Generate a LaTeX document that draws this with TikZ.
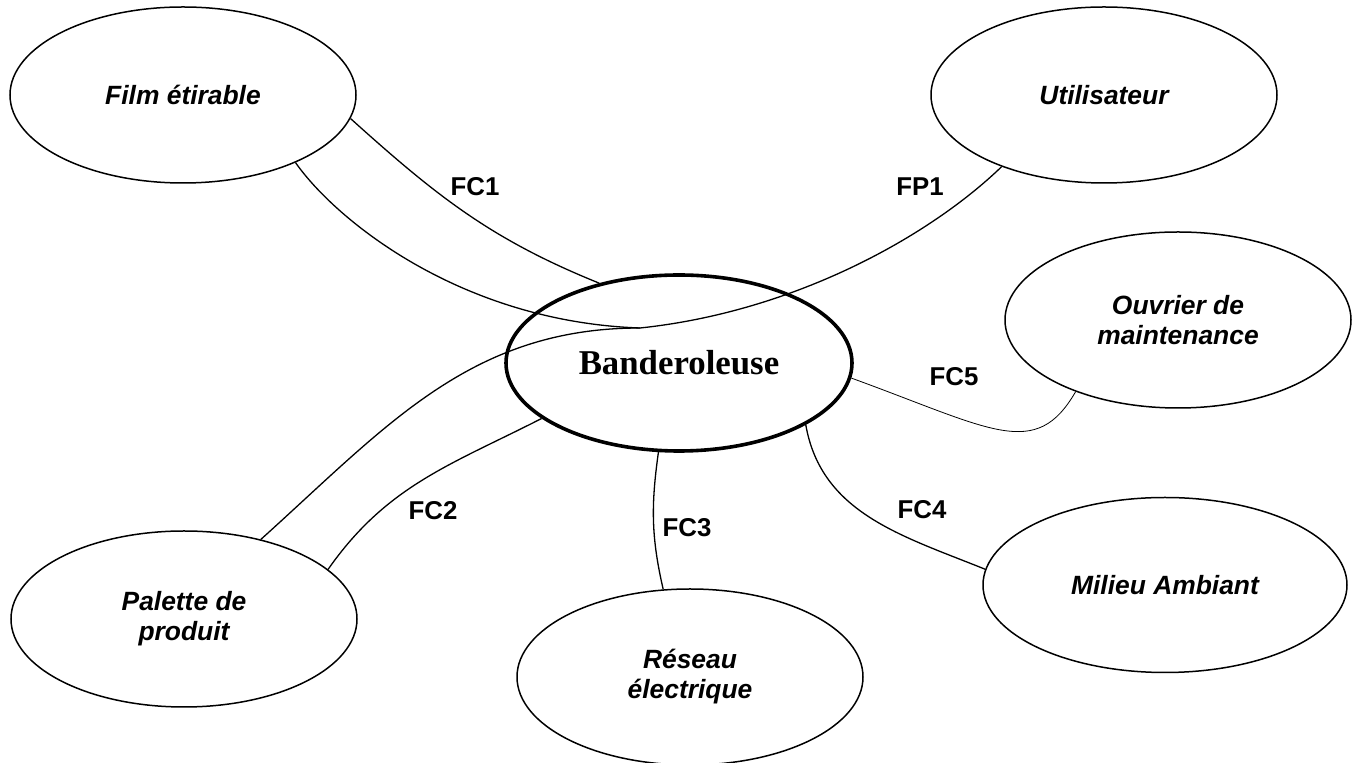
\documentclass[tikz,border=0pt]{standalone}
\usepackage{fontspec}
\setmainfont{Liberation Sans}
\newfontfamily\timesfont{Liberation Serif}
\usetikzlibrary{shapes.geometric}

\tikzset{
  acteur/.style={ellipse, draw, line width=0.75pt, minimum width=173pt, minimum height=88pt,
    inner sep=0pt, align=center, font=\fontsize{13.2}{15}\selectfont\bfseries\itshape},
  systeme/.style={ellipse, draw, line width=1.8pt, minimum width=173pt, minimum height=88pt,
    inner sep=0pt, font=\timesfont\fontsize{17.4}{20}\selectfont\bfseries},
  fonction/.style={font=\fontsize{12.9}{15}\selectfont\bfseries},
  liaison/.style={line width=0.65pt},
}

\begin{document}
\begin{tikzpicture}[x=0.5pt, y=-0.5pt]
\useasboundingbox (0,0) rectangle (1356,763);

% Le systeme au centre
\node[systeme] (bander) at (679,363) {Banderoleuse};

% Les elements du milieu exterieur
\node[acteur] (film) at (183,95) {Film étirable};
\node[acteur] (utilisateur) at (1104,95) {Utilisateur};
\node[acteur] (ouvrier) at (1178,320) {Ouvrier de\\maintenance};
\node[acteur, minimum width=182pt, minimum height=87.5pt] (milieu) at (1165,585) {Milieu Ambiant};
\node[acteur] (reseau) at (690,677) {Réseau\\électrique};
\node[acteur] (palette) at (184,619) {Palette de\\produit};

% FP1 : film et palette vers l'utilisateur, a travers la banderoleuse
\coordinate (fp) at (640,328);
\draw[liaison] (film.-31) to[out=-55, in=178, out looseness=0.47, in looseness=1.2] (fp)
  to[out=6, in=-136, in looseness=0.65] (utilisateur.215);
\draw[liaison] (palette.46) to[out=42, in=180] (fp);

% Les fonctions contraintes
\draw[liaison] (film.-8.5) to[out=-42, in=158] (bander.135);
\draw[liaison] (palette.19) to[out=55, in=207] (bander.202);
\draw[liaison] (bander.-103) to[out=-98, in=103] (reseau.107);
\draw[liaison] (bander.-26) to[out=-80, in=158] (milieu.175);
\draw[liaison, line width=0.4pt] (bander.-5) to[out=-20, in=-120, out looseness=1.71, in looseness=0.91] (ouvrier.215);

% Les etiquettes
\node[fonction] (fc1) at (475,187) {FC1};
\node[fonction] (fp1) at (920,187) {FP1};
\node[fonction] (fc5) at (954,377) {FC5};
\node[fonction] (fc2) at (433,511) {FC2};
\node[fonction] (fc3) at (687,528) {FC3};
\node[fonction] (fc4) at (922,510) {FC4};

\end{tikzpicture}
\end{document}
